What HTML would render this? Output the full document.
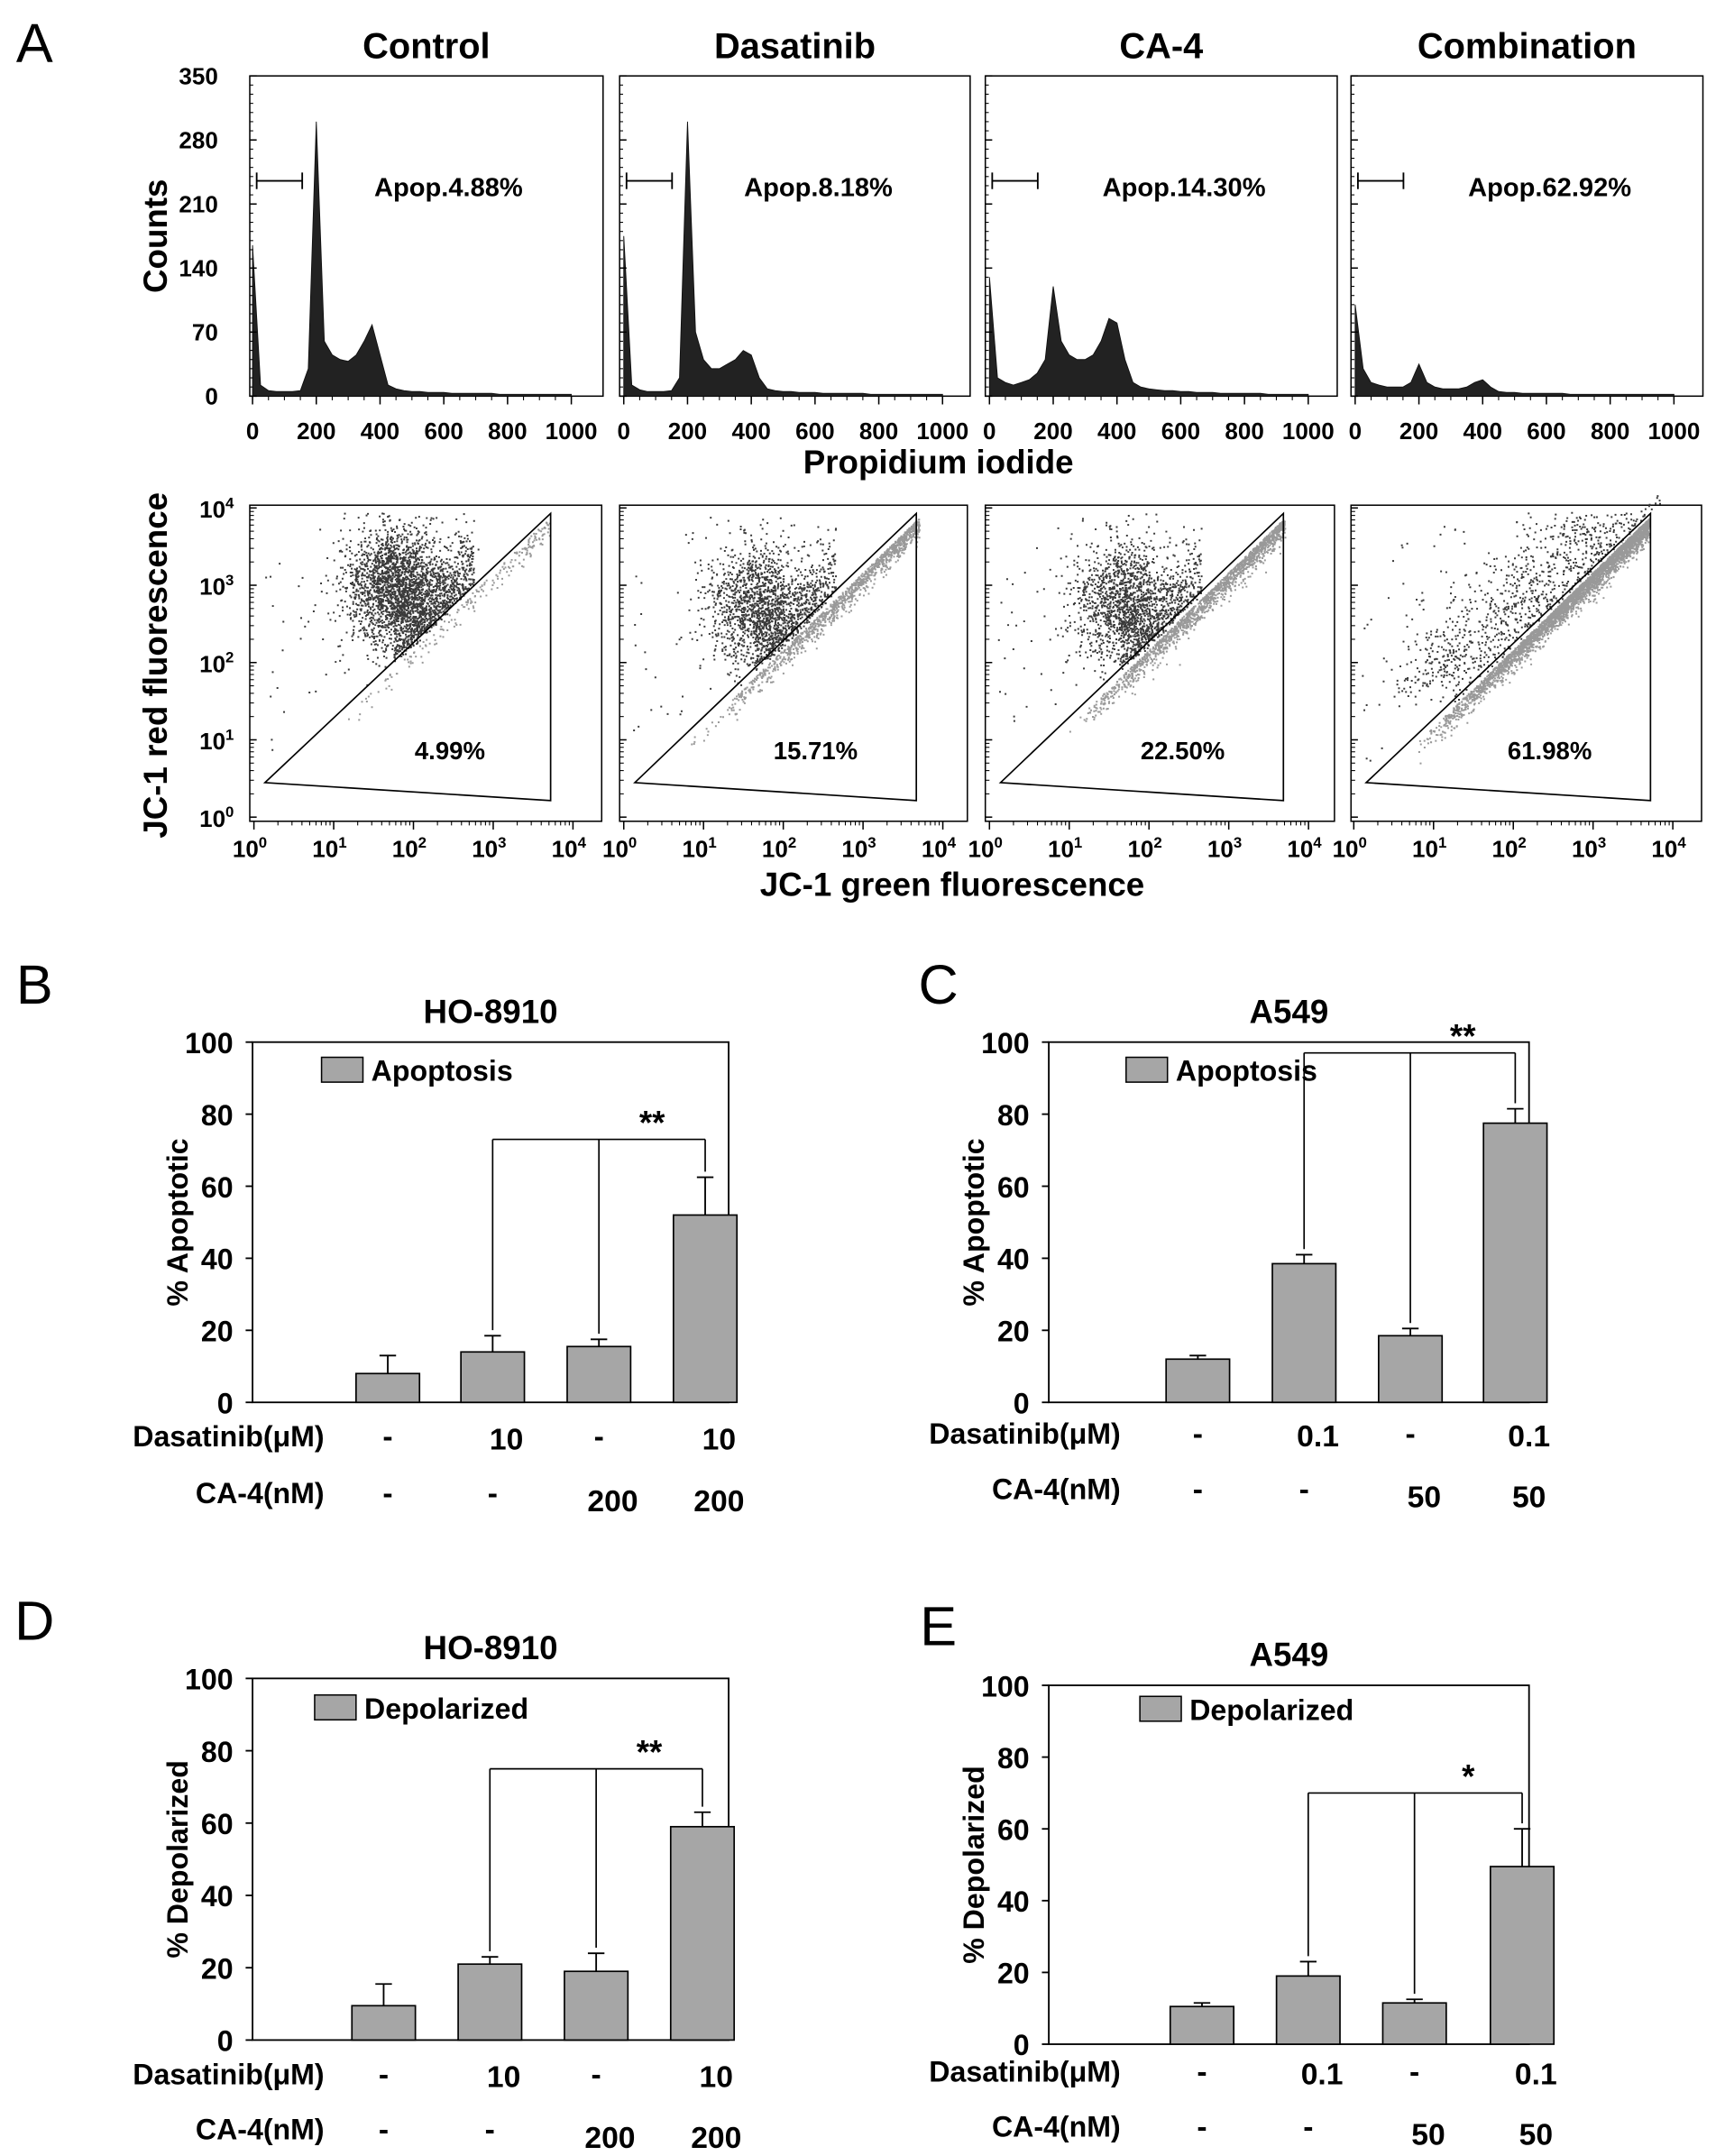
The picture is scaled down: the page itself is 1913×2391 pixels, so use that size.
<!DOCTYPE html>
<html><head><meta charset="utf-8"><style>
html,body{margin:0;padding:0;background:#fff}
svg{display:block}
text{font-family:"Liberation Sans",sans-serif;font-weight:bold;fill:#000}
</style></head><body>
<svg id="fig" width="1913" height="2391" viewBox="0 0 1250 1562" preserveAspectRatio="none" xmlns="http://www.w3.org/2000/svg"></svg>
<script>
// ---------- DATA ----------
const histTitles = ["Control","Dasatinib","CA-4","Combination"];
const histApop = ["Apop.4.88%","Apop.8.18%","Apop.14.30%","Apop.62.92%"];
const histStep = 25; // PI units per bin
const histControl = [165,12,6,5,5,5,6,30,300,60,45,40,38,45,60,78,45,12,8,6,5,5,4,4,4,3,3,3,3,3,3,2,2,2,2,2,2,2,2,2,2];
const histDasatinib = [175,12,7,5,5,5,6,20,300,70,40,30,30,35,40,50,45,20,8,6,5,5,4,4,4,3,3,3,3,3,3,2,2,2,2,2,2,2,2,2,2];
const histCA4 = [130,20,15,12,15,18,25,40,120,60,45,40,40,45,60,85,80,40,15,10,8,7,6,6,5,5,4,4,4,3,3,3,3,3,3,2,2,2,2,2,2];
const histCombo = [100,30,15,12,10,10,10,15,35,15,10,8,8,8,10,15,18,10,5,4,4,3,3,3,3,3,3,2,2,2,2,2,2,2,2,2,2,2,2,2,2];
const histYTicks = [0,70,140,210,280,350];
const histXTicks = [0,200,400,600,800,1000];

const scatPct = ["4.99%","15.71%","22.50%","61.98%"];
const scatDarkX = [1.75,1.65,1.65,2.0];
const scatDarkY = [3.0,2.75,2.8,2.7];
const scatDarkN = [6000,4500,4000,3000];
const scatGrayN = [200,1200,1600,3500];

const barCats = ["Control","Dasatinib","CA-4","Combination"];
const barB = [8,14,15.5,52];   const errB = [13,18.5,17.5,62.5];
const barC = [12,38.5,18.5,77.5]; const errC = [13,41,20.5,81.5];
const barD = [9.5,21,19,59];   const errD = [15.5,23,24,63];
const barE = [10.5,19,11.5,49.5]; const errE = [11.5,23,12.5,60];
const barYTicks = [0,20,40,60,80,100];

// ---------- HELPERS ----------
const NS="http://www.w3.org/2000/svg";
const svg=document.getElementById('fig');
function el(tag,attrs,parent,txt){const e=document.createElementNS(NS,tag);for(const k in attrs)e.setAttribute(k,attrs[k]);if(txt!==undefined)e.textContent=txt;(parent||svg).appendChild(e);return e;}
function line(x1,y1,x2,y2,p,w){return el('line',{x1,y1,x2,y2,stroke:'#000','stroke-width':w||1.3},p);}
function txt(x,y,s,size,p,anchor,name){const t=el('text',{x,y,'font-size':size,'text-anchor':anchor||'middle'},p,s);return t;}

[["A",25,45],["B",25,727],["C",680,727],["D",25,1188],["E",680,1192]].forEach(a=>{const t=el('text',{x:a[1],y:a[2],'font-size':40,'text-anchor':'middle'},svg,a[0]);t.style.fontWeight='normal';});

// ---------- HISTOGRAMS ----------
const histData=[histControl,histDasatinib,histCA4,histCombo];
const boxL=[181,449,714,979], boxR=[437,703,969,1234];
const axX0=[183,452,717,982];
const hTop=55,hBot=287;
function hy(v){return hBot-v*(hBot-hTop)/350;}
for(let p=0;p<4;p++){
  const g=el('g',{});
  
  
  const hx=v=>axX0[p]+v*0.231;
  el('rect',{x:boxL[p],y:hTop,width:boxR[p]-boxL[p],height:hBot-hTop,fill:'none',stroke:'#000','stroke-width':1},g);
  let d='M'+hx(0)+' '+hBot;
  histData[p].forEach((v,i)=>{d+=' L'+hx(i*histStep).toFixed(1)+' '+hy(v).toFixed(1);});
  d+=' L'+hx((histData[p].length-1)*histStep)+' '+hBot+'Z';
  const path=el('path',{d,fill:'#222',stroke:'#111','stroke-width':0.6},g);
  
  
  histYTicks.forEach(t=>{line(boxL[p],hy(t),boxL[p]+5,hy(t),g,1);if(p===0)txt(158,hy(t)+6,String(t),17,g,'end','y-tick-label');});
  for(let i=0;i<=35;i++)line(boxL[p],hy(i*10),boxL[p]+2.5,hy(i*10),g,0.7);
  histXTicks.forEach(t=>{line(hx(t),hBot,hx(t),hBot+6,g,1);txt(hx(t),318,String(t),17,g,'middle','x-tick-label');});
  for(let i=0;i<=20;i++)line(hx(i*50),hBot,hx(i*50),hBot+3,g,0.7);
  txt((boxL[p]+boxR[p])/2,42,histTitles[p],26,g,'middle','panel-title');
  const gx=boxL[p]+5;line(gx,131,gx+33,131,g,1.2);line(gx,125,gx,137,g,1.2);line(gx+33,125,gx+33,137,g,1.2);
  txt(boxL[p]+144,142,histApop[p],19,g,'middle','apoptosis-percent');
}
{const t=el('text',{x:0,y:0,'font-size':24,'text-anchor':'middle',transform:'translate(121,171) rotate(-90)'},svg,'Counts');}
txt(680,343,'Propidium iodide',24,svg,'middle','x-axis-title-pi');

// ---------- SCATTER ----------
let seed=12345;function rnd(){seed=(seed*1103515245+12345)&0x7fffffff;return seed/0x7fffffff;}
function gauss(){let u=rnd()||1e-6,v=rnd();return Math.sqrt(-2*Math.log(u))*Math.cos(2*Math.PI*v);}
const sTop=366,sBot=595;
const sx0=[184,452,717,981];
for(let p=0;p<4;p++){
  const g=el('g',{});
  
  
  const X=l=>sx0[p]+l*57.8, Y=l=>592-l*56;
  const R=p===3?1233:(p===0?436:(p===1?701:967));
  el('rect',{x:boxL[p],y:sTop,width:R-boxL[p],height:sBot-sTop,fill:'none',stroke:'#000','stroke-width':1},g);
  let dd='',dg='';
  for(let i=0;i<scatDarkN[p];i++){
    let lx=scatDarkX[p]+gauss()*0.3, ly=scatDarkY[p]+gauss()*0.38;
    if(rnd()<0.25){const t=rnd();lx=scatDarkX[p]+t*1.0;ly=lx+0.25+Math.abs(gauss())*0.4;}
    if(p===3){const t=rnd()*2.4; lx=0.9+t+gauss()*0.35; ly=1.3+t*0.95+Math.abs(gauss())*0.35+0.15;}
    if(ly>3.95)continue; if(ly<0.2||lx<0.1||lx>3.9)continue;
    if(ly<lx+0.22) ly=lx+0.22+rnd()*0.15;
    dd+='M'+X(lx).toFixed(1)+' '+Y(ly).toFixed(1)+'h1.3v1.3h-1.3z';
  }
  for(let i=0;i<scatGrayN[p];i++){
    const t=rnd();let lx=0.8+Math.sqrt(t)*2.9, ly=lx+0.18-Math.abs(gauss())*0.12;
    if(p<3&&lx<1.3&&rnd()<0.7)continue;
    dg+='M'+X(lx).toFixed(1)+' '+Y(ly).toFixed(1)+'h1.3v1.3h-1.3z';
  }
  for(let i=0;i<60;i++){const lx=rnd()*2.2+0.1,ly=lx+0.5+rnd()*2.5;if(ly<3.95)dd+='M'+X(lx).toFixed(1)+' '+Y(ly).toFixed(1)+'h1.3v1.3h-1.3z';}
  const pg=el('path',{d:dg,fill:'#999'},g);
  const pd=el('path',{d:dd,fill:'#3a3a3a'},g);
  const gate=el('polygon',{points:`${boxL[p]+11},567 ${R-37},372 ${R-37},580`,fill:'none',stroke:'#000','stroke-width':1.1},g);
  
  txt(R-110,550,scatPct[p],18,g,'middle','depolarized-percent');
  for(let e=0;e<=4;e++){
    line(X(e),sBot,X(e),sBot+6,g,1);
    for(let m=2;m<10&&e<4;m++)line(X(e+Math.log10(m)),sBot,X(e+Math.log10(m)),sBot+3,g,0.7);
    const t=el('text',{x:X(e)-3,y:621,'font-size':17,'text-anchor':'middle'},g);
    
    t.innerHTML='10<tspan dy="-7" font-size="11">'+e+'</tspan>';
    line(boxL[p],Y(e),boxL[p]+5,Y(e),g,1);
    for(let m=2;m<10&&e<4;m++)line(boxL[p],Y(e+Math.log10(m)),boxL[p]+3,Y(e+Math.log10(m)),g,0.7);
    if(p===0){const ty=el('text',{x:157,y:Y(e)+7,'font-size':17,'text-anchor':'middle'},g);ty.innerHTML='10<tspan dy="-7" font-size="11">'+e+'</tspan>';}
  }
}
{const t=el('text',{x:0,y:0,'font-size':24,'text-anchor':'middle',transform:'translate(121,482) rotate(-90)'},svg,'JC-1 red fluorescence');}
txt(690,649,'JC-1 green fluorescence',24,svg,'middle','x-axis-title-jc1-green');

// ---------- BAR CHARTS ----------
function barChart(o){
  const g=el('g',{});
  
  
  const y=v=>o.y0-v*(o.y0-o.y100)/100;
  el('rect',{x:o.x0,y:o.y100,width:o.x1-o.x0,height:o.y0-o.y100,fill:'none',stroke:'#000','stroke-width':1.2},g);
  barYTicks.forEach(t=>{line(o.x0-5,y(t),o.x0,y(t),g,1.2);txt(o.x0-14,y(t)+8,String(t),21,g,'end','y-tick-label');});
  o.vals.forEach((v,i)=>{
    const cx=o.cx[i];
    line(cx,y(v),cx,y(o.err[i]),g,1.2);line(cx-6,y(o.err[i]),cx+6,y(o.err[i]),g,1.2);
    const r=el('rect',{x:cx-23,y:y(v),width:46,height:y(0)-y(v),fill:'#a6a6a6',stroke:'#000','stroke-width':1.1},g);
    
    
  });
  const by=y(o.bracket);
  line(o.cx[1],by,o.cx[3],by,g,1.1);
  [1,2,3].forEach(i=>line(o.cx[i],by,o.cx[i],y(o.err[i])-4,g,1.1));
  txt((o.cx[2]+o.cx[3])/2,by-4,o.stars,24,g,'middle','significance-stars');
  el('rect',{x:o.lx,y:o.ly,width:30,height:18,fill:'#a6a6a6',stroke:'#000','stroke-width':1},g);
  txt(o.lx+36,o.ly+17,o.legend,21,g,'start','legend-entry');
  txt((o.x0+o.x1)/2,o.y100-14,o.title,24,g,'middle','chart-title');
  const t=el('text',{x:0,y:0,'font-size':21,'text-anchor':'middle',transform:`translate(${o.x0-47},${(o.y0+o.y100)/2}) rotate(-90)`},g,o.ytitle);
  
  txt(o.x0+52,o.r1,'Dasatinib(\u03bcM)',21,g,'end','row-label-dasatinib');
  txt(o.x0+52,o.r2,'CA-4(nM)',21,g,'end','row-label-ca4');
  o.row1.forEach((s,i)=>txt(o.cx[i]+(i%2?10:0),o.r1+(i%2?2:0),s,22,g,'middle','dasatinib-dose'));
  o.row2.forEach((s,i)=>txt(o.cx[i]+(i>=2?10:0),o.r2+(i>=2?6:0),s,22,g,'middle','ca4-dose'));
}
barChart({name:'chart-b-ho8910-apoptosis',x0:183,x1:528,y0:1016,y100:755,cx:[281,357,434,511],vals:barB,err:errB,bracket:73,stars:'**',lx:233,ly:766,legend:'Apoptosis',title:'HO-8910',ytitle:'% Apoptotic',r1:1048,r2:1089,row1:['-','10','-','10'],row2:['-','-','200','200']});
barChart({name:'chart-c-a549-apoptosis',x0:760,x1:1108,y0:1016,y100:755,cx:[868,945,1022,1098],vals:barC,err:errC,bracket:97,stars:'**',lx:816,ly:766,legend:'Apoptosis',title:'A549',ytitle:'% Apoptotic',r1:1046,r2:1086,row1:['-','0.1','-','0.1'],row2:['-','-','50','50']});
barChart({name:'chart-d-ho8910-depolarized',x0:183,x1:528,y0:1478,y100:1216,cx:[278,355,432,509],vals:barD,err:errD,bracket:75,stars:'**',lx:228,ly:1228,legend:'Depolarized',title:'HO-8910',ytitle:'% Depolarized',r1:1510,r2:1550,row1:['-','10','-','10'],row2:['-','-','200','200']});
barChart({name:'chart-e-a549-depolarized',x0:760,x1:1108,y0:1481,y100:1221,cx:[871,948,1025,1103],vals:barE,err:errE,bracket:70,stars:'*',lx:826,ly:1229,legend:'Depolarized',title:'A549',ytitle:'% Depolarized',r1:1508,r2:1548,row1:['-','0.1','-','0.1'],row2:['-','-','50','50']});
</script>
</body></html>
